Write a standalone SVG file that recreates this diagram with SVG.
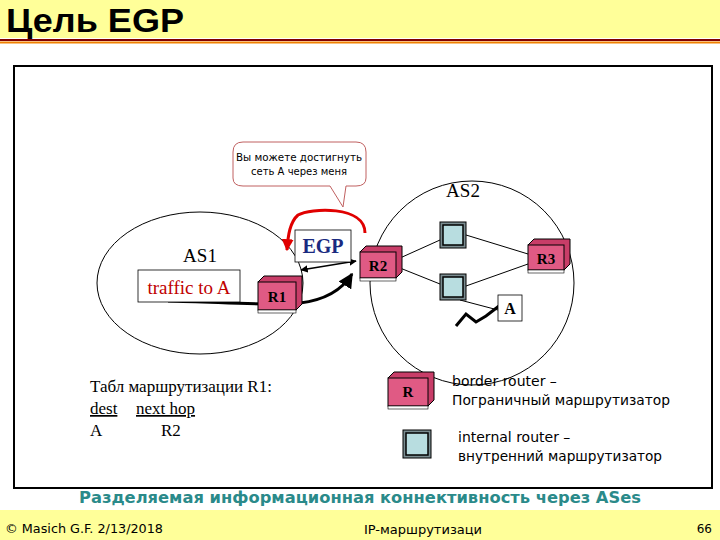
<svg xmlns="http://www.w3.org/2000/svg" width="720" height="540" viewBox="0 0 720 540">
<defs>
<style>
.sans{font-family:"DejaVu Sans","Liberation Sans",sans-serif}
.serif{font-family:"Liberation Serif","Times New Roman",serif}
.br{fill:#e05a84;stroke:#000;stroke-width:1}
.brs{fill:#c83d68;stroke:#000;stroke-width:1}
.ir{fill:#b8dde0;stroke:#000;stroke-width:1.5}
.irs{fill:#7a8c90;stroke:#000;stroke-width:1}
.ln{stroke:#000;stroke-width:1;fill:none}
</style>
<marker id="ab" viewBox="0 0 10 10" refX="9" refY="5" markerWidth="5" markerHeight="5" orient="auto-start-reverse"><path d="M0,0L10,5L0,10z" fill="#000"/></marker>
<marker id="ar" viewBox="0 0 10 10" refX="9" refY="5" markerWidth="4" markerHeight="4" orient="auto"><path d="M0,0L10,5L0,10z" fill="#e00000"/></marker>
</defs>
<rect width="720" height="540" fill="#fff"/>
<rect x="0" y="0" width="720" height="38" fill="#ffff99"/>
<line x1="0" y1="40" x2="720" y2="40" stroke="#800000" stroke-width="2"/>
<line x1="0" y1="42.5" x2="720" y2="42.5" stroke="#f08000" stroke-width="2"/>
<text x="6" y="32" font-family="Liberation Sans Narrow,Liberation Sans,sans-serif" font-size="34" font-weight="bold" textLength="178" lengthAdjust="spacingAndGlyphs">Цель EGP</text>
<rect x="14" y="66" width="698" height="422" fill="none" stroke="#000" stroke-width="2"/>
<rect x="0" y="510" width="720" height="30" fill="#ffff99"/>
<text x="360" y="503" class="sans" font-size="15" font-weight="bold" fill="#2a8a8a" text-anchor="middle" textLength="562" lengthAdjust="spacingAndGlyphs">Разделяемая информационная коннективность через  ASes</text>
<text x="5" y="533" class="sans" font-size="12" textLength="158" lengthAdjust="spacingAndGlyphs">© Masich G.F. 2/13/2018</text>
<text x="423" y="534" class="sans" font-size="13" text-anchor="middle">IP-маршрутизаци</text>
<text x="712" y="533" class="sans" font-size="12" text-anchor="end">66</text>

<g id="as1"><ellipse cx="200" cy="283" rx="103" ry="71" class="ln"/><text x="200" y="262" class="serif" font-size="19" text-anchor="middle">AS1</text></g>
<g id="as2"><circle cx="472" cy="283" r="102" class="ln"/><text x="463" y="197" class="serif" font-size="19" text-anchor="middle">AS2</text></g>

<g id="callout">
<path d="M243,142 H356 Q366,142 366,152 V178 Q366,186 356,186 H346 L343,207 L330,186 H243 Q233,186 233,178 V152 Q233,142 243,142 Z" fill="#fff" stroke="#c06060" stroke-width="1"/>
<text x="299" y="161" class="sans" font-size="10" text-anchor="middle" textLength="126" lengthAdjust="spacingAndGlyphs">Вы можете достигнуть</text>
<text x="299" y="175" class="sans" font-size="10" text-anchor="middle">сеть А через меня</text>
</g>

<g id="connectors">
<line x1="400" y1="258" x2="440" y2="240" class="ln"/>
<line x1="400" y1="268" x2="440" y2="284" class="ln"/>
<line x1="466" y1="235" x2="528" y2="254" class="ln"/>
<line x1="466" y1="286" x2="528" y2="264" class="ln"/>
<line x1="460" y1="300" x2="498" y2="310" class="ln"/>
<path d="M456,326 L466,314 L476,322 L486,316 L499,306" stroke="#000" stroke-width="3" fill="none"/>
<path d="M365,233 C365,205 310,208 298,215 C290,222 288,235 287,250" stroke="#e00000" stroke-width="3" fill="none" marker-end="url(#ar)"/>
<line x1="301" y1="270" x2="356" y2="261" stroke="#000" stroke-width="1.5" marker-start="url(#ab)" marker-end="url(#ab)"/>
<path d="M168,301 C220,302 270,306 300,303 C325,300 342,290 352,274" stroke="#000" stroke-width="3" fill="none" marker-end="url(#ab)"/>
</g>

<g id="egp"><rect x="295" y="230" width="56" height="32" fill="#fff" stroke="#000" stroke-width="0.8"/><text x="323" y="253" class="serif" font-size="20" font-weight="bold" fill="#1a2a80" text-anchor="middle">EGP</text></g>
<g id="traffic"><rect x="138" y="270" width="102" height="32" fill="#fff" stroke="#000" stroke-width="0.8"/><text x="189" y="294" class="serif" font-size="19" fill="#c00000" text-anchor="middle">traffic to A</text></g>

<g id="r1"><path d="M258,282 L264,276 L302,276 L302,304 L296,310 Z" class="brs"/><rect x="258" y="282" width="38" height="28" class="br"/><rect x="258" y="310" width="38" height="3" fill="#fff" stroke="#000" stroke-width="0.6"/><text x="277" y="302" class="serif" font-size="15" font-weight="bold" text-anchor="middle">R1</text></g>
<g id="r2"><path d="M360,252 L366,246 L402,246 L402,272 L396,278 Z" class="brs"/><rect x="360" y="252" width="36" height="26" class="br"/><rect x="360" y="278" width="36" height="3" fill="#fff" stroke="#000" stroke-width="0.6"/><text x="378" y="271" class="serif" font-size="15" font-weight="bold" text-anchor="middle">R2</text></g>
<g id="r3"><path d="M528,245 L534,239 L570,239 L570,264 L564,270 Z" class="brs"/><rect x="528" y="245" width="36" height="25" class="br"/><rect x="528" y="270" width="36" height="3" fill="#fff" stroke="#000" stroke-width="0.6"/><text x="546" y="264" class="serif" font-size="15" font-weight="bold" text-anchor="middle">R3</text></g>
<g id="i1"><rect x="440" y="222" width="26" height="26" class="irs"/><rect x="443" y="225" width="20" height="20" class="ir"/></g>
<g id="i2"><rect x="440" y="274" width="26" height="26" class="irs"/><rect x="443" y="277" width="20" height="20" class="ir"/></g>
<g id="a"><rect x="498" y="295" width="24" height="26" fill="#fff" stroke="#000" stroke-width="0.8"/><text x="510" y="314" class="serif" font-size="16" font-weight="bold" text-anchor="middle">A</text></g>

<g id="table" class="serif" font-size="17">
<text x="90" y="392">Табл маршрутизации R1:</text>
<text x="90" y="414" text-decoration="underline">dest</text>
<text x="136" y="414" text-decoration="underline">next hop</text>
<text x="90" y="436">A</text>
<text x="161" y="436">R2</text>
</g>

<g id="legend-br"><path d="M388,378 L394,372 L434,372 L434,400 L428,406 Z" class="brs"/><rect x="388" y="378" width="40" height="28" class="br"/><rect x="388" y="406" width="40" height="3" fill="#fff" stroke="#000" stroke-width="0.6"/><text x="408" y="397" class="serif" font-size="15" font-weight="bold" text-anchor="middle">R</text>
<text x="452" y="386" class="sans" font-size="14">border router –</text><text x="452" y="405" class="sans" font-size="14" textLength="218" lengthAdjust="spacingAndGlyphs">Пограничный маршрутизатор</text></g>
<g id="legend-ir"><rect x="403" y="430" width="28" height="28" class="irs"/><rect x="406" y="433" width="22" height="22" class="ir"/>
<text x="458" y="442" class="sans" font-size="14">internal router –</text><text x="458" y="461" class="sans" font-size="14" textLength="204" lengthAdjust="spacingAndGlyphs">внутренний маршрутизатор</text></g>
</svg>
